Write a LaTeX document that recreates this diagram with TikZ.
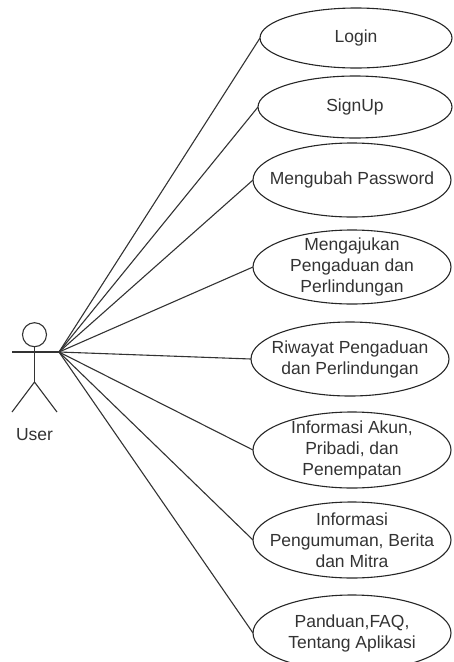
\documentclass[tikz,border=0pt]{standalone}
\usepackage{fontspec}
\setmainfont{Liberation Sans}
\usetikzlibrary{shapes.geometric}
\begin{document}
\begin{tikzpicture}[x=1pt,y=-1pt,
  line width=1.1pt,
  uc/.style={draw=black!85, ellipse, inner sep=0pt, outer sep=0pt, line width=1.1pt},
  uctext/.style={align=center, text=black!80, font=\fontsize{17.5}{21}\selectfont, inner sep=0pt},
  assoc/.style={draw=black!80, line width=1.1pt},
  actorline/.style={draw=black!80, line width=1.1pt}]
\useasboundingbox (0,0) rectangle (453,662);
% actor
\node[circle, draw=black!80, line width=1.1pt, minimum size=24pt, inner sep=0pt] (head) at (34.5,334.7) {};
\coordinate (hand) at (59,352);
\coordinate (lhand) at (12,352);
\coordinate (hip) at (34.5,382);
\coordinate (lfoot) at (12,412);
\coordinate (rfoot) at (57,412);
\draw[actorline] (lhand) -- (hand);
\draw[actorline] (head.south) -- (hip);
\draw[actorline] (lfoot) -- (hip) -- (rfoot);
\node[uctext, anchor=base] (user) at (34.5,440) {User};
% use cases
\node[uc, minimum width=192pt, minimum height=60pt] (u1) at (356,38) {};
\node[uctext] at (u1) {Login};
\node[uc, minimum width=194pt, minimum height=62pt] (u2) at (355,107) {};
\node[uctext] at (u2) {SignUp};
\node[uc, minimum width=198pt, minimum height=74pt] (u3) at (352,180) {};
\node[uctext] at (u3) {Mengubah Password};
\node[uc, minimum width=198pt, minimum height=74pt] (u4) at (352,267) {};
\node[uctext] at (u4) {Mengajukan\\Pengaduan dan\\Perlindungan};
\node[uc, minimum width=198pt, minimum height=74pt] (u5) at (350,359) {};
\node[uctext] at (u5) {Riwayat Pengaduan\\dan Perlindungan};
\node[uc, minimum width=198pt, minimum height=76pt] (u6) at (352,450) {};
\node[uctext] at (u6) {Informasi Akun,\\Pribadi, dan\\Penempatan};
\node[uc, minimum width=198pt, minimum height=76pt] (u7) at (352,540) {};
\node[uctext] at (u7) {Informasi\\Pengumuman, Berita\\dan Mitra};
\node[uc, minimum width=198pt, minimum height=76pt] (u8) at (352,633) {};
\node[uctext] at (u8) {Panduan,FAQ,\\Tentang Aplikasi};
% associations
\foreach \u in {u1,u2,u3,u4,u5,u6,u7,u8}
  \draw[assoc] (hand) -- (\u.west);
\end{tikzpicture}
\end{document}
